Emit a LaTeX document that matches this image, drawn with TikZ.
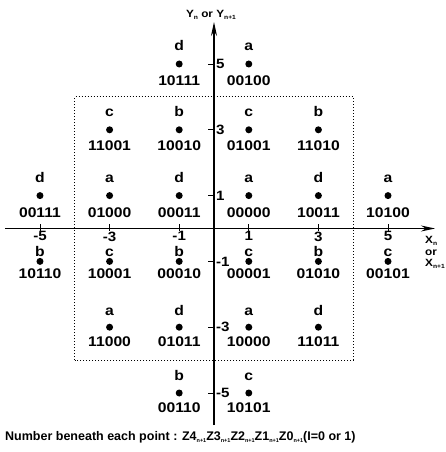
\documentclass[tikz,border=0pt]{standalone}
\usepackage{fontspec}
\newfontfamily\pfont{Liberation Sans}[FakeStretch=1.12]
\newfontfamily\cfont{Liberation Sans}
\usetikzlibrary{arrows.meta}
\newcommand\sbs[1]{\raisebox{-0.35ex}{\fontsize{6}{6}\selectfont #1}}
\newcommand\sbc[1]{\raisebox{-0.4ex}{\fontsize{5.5}{5.5}\selectfont #1}}
\newcommand\cpoint[7]{%
  \node[dot] (#1) at (#2,#3) {};
  \node[lbl] (#1-l) at ([yshift=#6]#1.center) {#4};
  \node[lbl] (#1-c) at ([yshift=#7]#1.center) {#5};
}
\begin{document}
\begin{tikzpicture}[x=34.8pt,y=32.9pt,
  dot/.style={circle,fill=black,inner sep=0pt,minimum size=7pt},
  lbl/.style={font=\pfont\bfseries\fontsize{14}{14}\selectfont,inner sep=0pt,anchor=base},
  tl/.style={font=\pfont\bfseries\fontsize{13.5}{13.5}\selectfont,inner sep=0pt},
  ttl/.style={font=\pfont\bfseries\fontsize{10.5}{11}\selectfont,inner sep=0pt},
  captxt/.style={font=\cfont\bfseries\fontsize{12.5}{12.5}\selectfont,inner sep=0pt,anchor=west},
  axisline/.style={line width=1.3pt},
  tickline/.style={line width=0.9pt},
  dottedbox/.style={line width=0.9pt,dash pattern=on 1.2pt off 1.8pt}]
\useasboundingbox (-214pt,-223.5pt) rectangle (232pt,228.5pt);
% dotted box
\draw[dottedbox] (-4,-4) rectangle (4,4);
% axes
\coordinate (xs) at (-209pt,0);
\coordinate (xe) at (221pt,0);
\coordinate (ys) at (0,-196.5pt);
\coordinate (ye) at (0,206.5pt);
\draw[axisline,-{Stealth[length=14pt,width=6pt]}] (xs) -- (xe);
\draw[axisline,-{Stealth[length=14pt,width=6pt]}] (ys) -- (ye);
\foreach \v in {-5,-3,-1,1,3,5}{
  \coordinate (xt\v) at (\v,0);
  \draw[tickline] ([yshift=4pt]xt\v) -- ([yshift=-3pt]xt\v);
  \node[tl,anchor=north] (xl\v) at ([yshift=-3pt]xt\v) {\v};
  \coordinate (yt\v) at (0,\v);
  \draw[tickline] ([xshift=-6pt]yt\v) -- (yt\v);
  \node[tl,anchor=west] (yl\v) at ([xshift=2pt]yt\v) {\v};
}
% axis titles
\node[ttl] (ytitle) at (-3pt,213.5pt) {Y\sbs{n} or Y\sbs{n+1}};
\node[ttl,anchor=west] (xtitle1) at (211pt,-12.5pt) {X\sbs{n}};
\node[ttl,anchor=west] (xtitle2) at (211pt,-24.5pt) {or};
\node[ttl,anchor=west] (xtitle3) at (211pt,-35.5pt) {X\sbs{n+1}};
% points
\cpoint{p1}{-1}{5}{d}{10111}{13pt}{-22pt}
\cpoint{p2}{1}{5}{a}{00100}{13pt}{-22pt}
\cpoint{p3}{-3}{3}{c}{11001}{13pt}{-21pt}
\cpoint{p4}{-1}{3}{b}{10010}{13pt}{-21pt}
\cpoint{p5}{1}{3}{c}{01001}{13pt}{-21pt}
\cpoint{p6}{3}{3}{b}{11010}{13pt}{-21pt}
\cpoint{p7}{-5}{1}{d}{00111}{13pt}{-22pt}
\cpoint{p8}{-3}{1}{a}{01000}{13pt}{-22pt}
\cpoint{p9}{-1}{1}{d}{00011}{13pt}{-22pt}
\cpoint{p10}{1}{1}{a}{00000}{13pt}{-22pt}
\cpoint{p11}{3}{1}{d}{10011}{13pt}{-22pt}
\cpoint{p12}{5}{1}{a}{10100}{13pt}{-22pt}
\cpoint{p13}{-5}{-1}{b}{10110}{4.5pt}{-17pt}
\cpoint{p14}{-3}{-1}{c}{10001}{4.5pt}{-17pt}
\cpoint{p15}{-1}{-1}{b}{00010}{4.5pt}{-17pt}
\cpoint{p16}{1}{-1}{c}{00001}{4.5pt}{-17pt}
\cpoint{p17}{3}{-1}{b}{01010}{4.5pt}{-17pt}
\cpoint{p18}{5}{-1}{c}{00101}{4.5pt}{-17pt}
\cpoint{p19}{-3}{-3}{a}{11000}{12pt}{-19.5pt}
\cpoint{p20}{-1}{-3}{d}{01011}{12pt}{-19.5pt}
\cpoint{p21}{1}{-3}{a}{10000}{12pt}{-19.5pt}
\cpoint{p22}{3}{-3}{d}{11011}{12pt}{-19.5pt}
\cpoint{p23}{-1}{-5}{b}{00110}{12.5pt}{-19.5pt}
\cpoint{p24}{1}{-5}{c}{10101}{12.5pt}{-19.5pt}
% caption
\node[captxt] (caption) at (-209pt,-208.5pt) {Number beneath each point : Z4\sbc{n+1}Z3\sbc{n+1}Z2\sbc{n+1}Z1\sbc{n+1}Z0\sbc{n+1}(I=0 or 1)};
\end{tikzpicture}
\end{document}
